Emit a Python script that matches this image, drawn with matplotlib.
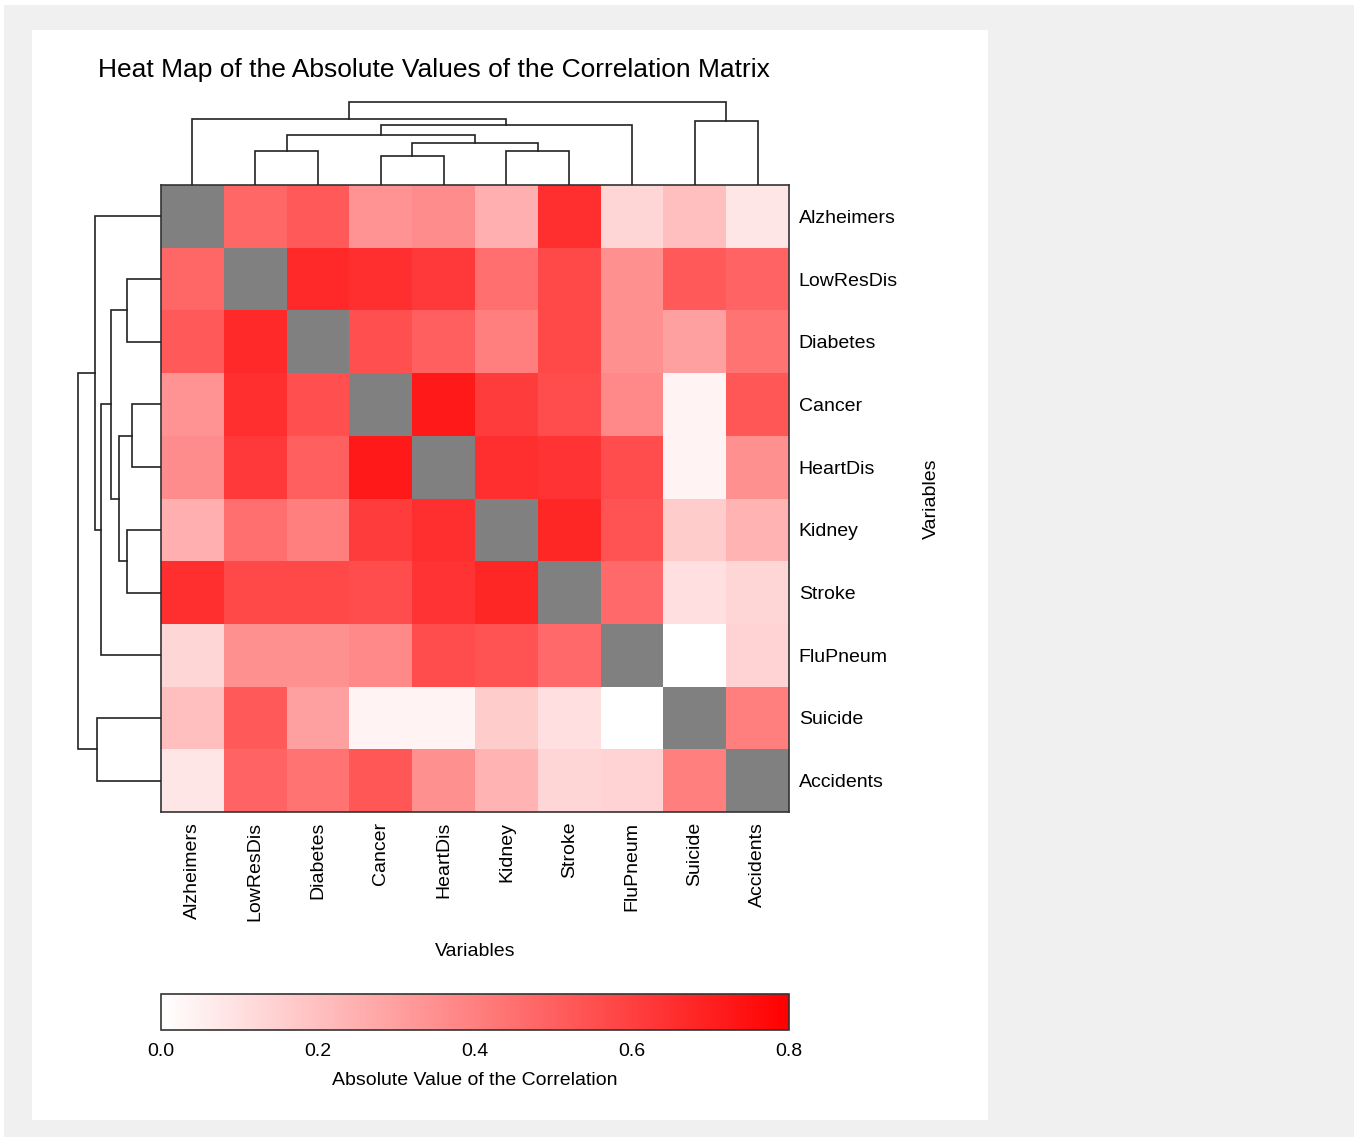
import numpy as np
import matplotlib
matplotlib.use("Agg")
from matplotlib import pyplot as plt
from matplotlib.colors import LinearSegmentedColormap
from matplotlib.patches import Rectangle

plt.rcParams['font.family'] = ['Liberation Sans', 'DejaVu Sans']

# variables in dendrogram leaf order
names = ["Alzheimers", "LowResDis", "Diabetes", "Cancer", "HeartDis",
         "Kidney", "Stroke", "FluPneum", "Suicide", "Accidents"]

# upper triangle of |r|, row by row (after the diagonal)
upper = [
    [0.48, 0.52, 0.34, 0.36, 0.25, 0.65, 0.13, 0.20, 0.08],
    [0.67, 0.65, 0.62, 0.45, 0.57, 0.35, 0.52, 0.49],
    [0.55, 0.50, 0.40, 0.57, 0.35, 0.30, 0.44],
    [0.72, 0.61, 0.56, 0.37, 0.04, 0.53],
    [0.65, 0.64, 0.56, 0.04, 0.35],
    [0.68, 0.54, 0.16, 0.24],
    [0.47, 0.10, 0.13],
    [0.00, 0.14],
    [0.40],
]

# linkage: (child a, child b, height); leaves 0..9, new clusters from 10
linkage = [
    (3, 4, 0.29),
    (1, 2, 0.343),
    (5, 6, 0.343),
    (10, 12, 0.417),
    (11, 13, 0.505),
    (14, 7, 0.603),
    (8, 9, 0.645),
    (0, 15, 0.66),
    (17, 16, 0.832),
]

cbar_ticks = [0.0, 0.2, 0.4, 0.6, 0.8]

n = len(names)
mat = np.zeros((n, n))
for i, row in enumerate(upper):
    for k, v in enumerate(row):
        j = i + 1 + k
        mat[i, j] = v
        mat[j, i] = v
mat = np.ma.masked_where(np.eye(n, dtype=bool), mat)

W, H = 1354, 1137
fig = plt.figure(figsize=(W / 100, H / 100), dpi=100)
fig.patch.set_facecolor('white')


def box(x0, y0, x1, y1):
    # pixel box -> figure fraction rect
    return [x0 / W, 1 - y1 / H, (x1 - x0) / W, (y1 - y0) / H]


# background panels
fig.patches.append(Rectangle((4 / W, 0), 1, 1 - 5 / H, transform=fig.transFigure,
                             facecolor='#f0f0f0', edgecolor='none', zorder=-10))
fig.patches.append(Rectangle((32 / W, 1 - 1120 / H), (988 - 32) / W, (1120 - 30) / H,
                             transform=fig.transFigure, facecolor='white',
                             edgecolor='none', zorder=-9))

cmap = LinearSegmentedColormap.from_list("wr", ["#ffffff", "#ff0000"])
cmap.set_bad('#808080')

fs = 14
hx0, hy0, hx1, hy1 = 161, 185, 789, 812
ax = fig.add_axes(box(hx0, hy0, hx1, hy1))
mesh = ax.pcolormesh(np.arange(n + 1), np.arange(n + 1), mat, cmap=cmap, vmin=0, vmax=0.8)
ax.set_xlim(0, n)
ax.set_ylim(n, 0)
ax.set_xticks(np.arange(n) + 0.5)
ax.set_xticklabels(names, rotation=90, fontsize=fs)
ax.set_yticks(np.arange(n) + 0.5)
ax.set_yticklabels(names, fontsize=fs)
ax.yaxis.tick_right()
ax.tick_params(length=0, pad=7)
for s in ax.spines.values():
    s.set_linewidth(1.2)
    s.set_color('#333333')
ax.set_xlabel("Variables", fontsize=fs, labelpad=16)
ax.set_ylabel("Variables", fontsize=fs, labelpad=18, rotation=90)
ax.yaxis.set_label_position('right')


def dendro_segments(linkage, n):
    pos = {i: i + 0.5 for i in range(n)}
    hgt = {i: 0.0 for i in range(n)}
    segs = []
    for k, (a, b, h) in enumerate(linkage):
        cid = n + k
        segs.append(([pos[a], pos[a], pos[b], pos[b]], [hgt[a], h, h, hgt[b]]))
        pos[cid] = (pos[a] + pos[b]) / 2
        hgt[cid] = h
    return segs


segs = dendro_segments(linkage, n)
lc = '#222222'

axt = fig.add_axes(box(hx0, 95, hx1, hy0))
for xs, ys in segs:
    axt.plot(xs, ys, color=lc, lw=1.2, solid_joinstyle='miter')
axt.set_xlim(0, n)
axt.set_ylim(0, 0.9)
axt.axis('off')

axl = fig.add_axes(box(71, hy0, hx0, hy1))
for xs, ys in segs:
    axl.plot(ys, xs, color=lc, lw=1.2, solid_joinstyle='miter')
axl.set_ylim(n, 0)
axl.set_xlim(0.9, 0)
axl.axis('off')

# colorbar
cax = fig.add_axes(box(161, 994, 789, 1030))
cb = fig.colorbar(mesh, cax=cax, orientation='horizontal', ticks=cbar_ticks)
cb.ax.tick_params(length=0, labelsize=fs, pad=9)
cb.ax.set_xticklabels([f"{t:.1f}" for t in cbar_ticks])
cb.outline.set_linewidth(1.2)
cb.outline.set_edgecolor('#333333')
cb.set_label("Absolute Value of the Correlation", fontsize=fs, labelpad=9)

fig.text(98 / W, 1 - 70 / H, "Heat Map of the Absolute Values of the Correlation Matrix",
         fontsize=19, ha='left', va='center')

fig.savefig("out.png", dpi=100)
